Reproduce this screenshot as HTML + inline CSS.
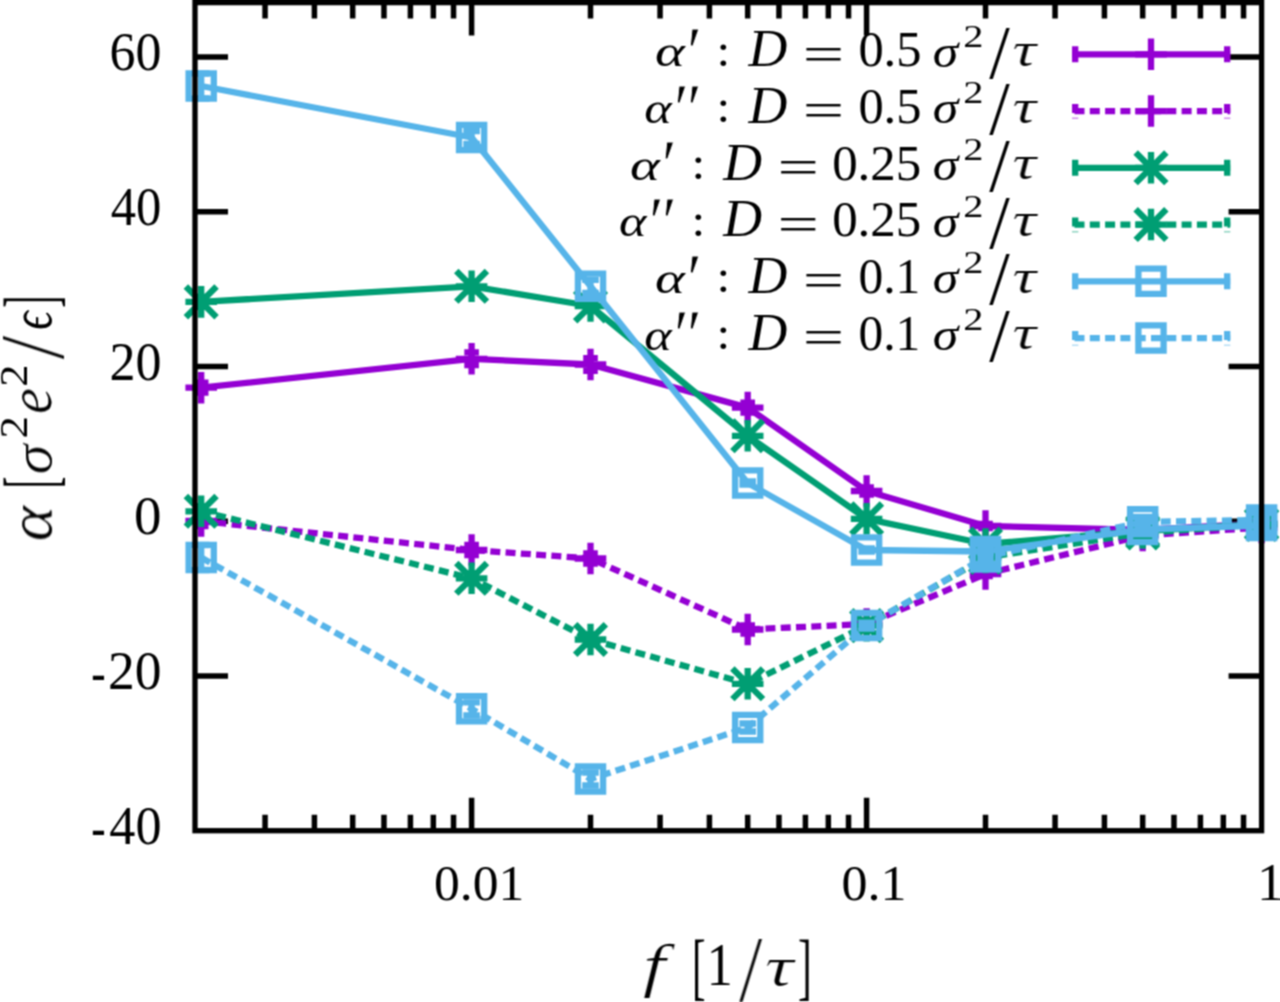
<!DOCTYPE html>
<html lang="en"><head><meta charset="utf-8"><title>alpha vs f</title>
<style>
html,body{margin:0;padding:0;background:#fff}
body{width:1280px;height:1002px;overflow:hidden}
svg{display:block}
text{font-family:"Liberation Serif","DejaVu Serif",serif;fill:#000;font-kerning:none;white-space:pre}
</style></head><body>
<svg width="1280" height="1002" viewBox="0 0 1280 1002">
<defs><filter id="thin" x="-10%" y="-10%" width="120%" height="120%"><feMorphology operator="erode" radius="0.55 0" result="e"/><feComponentTransfer in="SourceGraphic" result="s"><feFuncA type="linear" slope="0.5"/></feComponentTransfer><feMerge><feMergeNode in="s"/><feMergeNode in="e"/></feMerge></filter><filter id="thin2" x="-10%" y="-10%" width="120%" height="120%"><feMorphology operator="erode" radius="0.55 0" result="e"/><feComponentTransfer in="SourceGraphic" result="s"><feFuncA type="linear" slope="0.2"/></feComponentTransfer><feMerge><feMergeNode in="s"/><feMergeNode in="e"/></feMerge></filter><filter id="soft" x="0" y="0" width="1280" height="1002" filterUnits="userSpaceOnUse" color-interpolation-filters="sRGB"><feConvolveMatrix order="3" kernelMatrix="1 2 1 2 4 2 1 2 1" divisor="16" edgeMode="duplicate" preserveAlpha="true"/></filter></defs>
<g filter="url(#soft)">
<rect x="0" y="0" width="1280" height="1002" fill="#fff"/>
<path d="M471.60 830.7V797.7M471.60 2.6V35.6M866.60 830.7V797.7M866.60 2.6V35.6M265.06 830.7V814.7M265.06 2.6V18.6M314.41 830.7V814.7M314.41 2.6V18.6M352.69 830.7V814.7M352.69 2.6V18.6M383.97 830.7V814.7M383.97 2.6V18.6M410.41 830.7V814.7M410.41 2.6V18.6M433.32 830.7V814.7M433.32 2.6V18.6M453.53 830.7V814.7M453.53 2.6V18.6M590.51 830.7V814.7M590.51 2.6V18.6M660.06 830.7V814.7M660.06 2.6V18.6M709.41 830.7V814.7M709.41 2.6V18.6M747.69 830.7V814.7M747.69 2.6V18.6M778.97 830.7V814.7M778.97 2.6V18.6M805.41 830.7V814.7M805.41 2.6V18.6M828.32 830.7V814.7M828.32 2.6V18.6M848.53 830.7V814.7M848.53 2.6V18.6M985.51 830.7V814.7M985.51 2.6V18.6M1055.06 830.7V814.7M1055.06 2.6V18.6M1104.41 830.7V814.7M1104.41 2.6V18.6M1142.69 830.7V814.7M1142.69 2.6V18.6M1173.97 830.7V814.7M1173.97 2.6V18.6M1200.41 830.7V814.7M1200.41 2.6V18.6M1223.32 830.7V814.7M1223.32 2.6V18.6M1243.53 830.7V814.7M1243.53 2.6V18.6M195.0 56.90H228.0M1261.6 56.90H1228.6M195.0 211.66H228.0M1261.6 211.66H1228.6M195.0 366.42H228.0M1261.6 366.42H1228.6M195.0 521.18H228.0M1261.6 521.18H1228.6M195.0 675.94H228.0M1261.6 675.94H1228.6" stroke="#000" stroke-width="5.5" fill="none"/>
<g id="pur_s" stroke="#9400d3" stroke-width="6.3" fill="none">
<polyline points="201.20,387.70 471.60,358.80 590.51,364.50 747.69,407.60 866.60,491.00 985.51,526.00 1142.69,530.00 1261.60,523.50" stroke-linejoin="round"/>
<path d="M201.20 382.70V392.70M193.90 382.70H208.50M193.90 392.70H208.50M471.60 352.40V365.20M464.30 352.40H478.90M464.30 365.20H478.90M590.51 358.10V370.90M583.21 358.10H597.81M583.21 370.90H597.81M747.69 402.60V412.60M740.39 402.60H754.99M740.39 412.60H754.99M866.60 487.50V494.50M859.30 487.50H873.90M859.30 494.50H873.90M985.51 524.00V528.00M978.21 524.00H992.81M978.21 528.00H992.81M1142.69 528.50V531.50M1135.39 528.50H1149.99M1135.39 531.50H1149.99M1261.60 522.00V525.00M1254.30 522.00H1268.90M1254.30 525.00H1268.90"/>
<path d="M185.40 387.70H217.00M201.20 371.90V403.50M455.80 358.80H487.40M471.60 343.00V374.60M574.71 364.50H606.31M590.51 348.70V380.30M731.89 407.60H763.49M747.69 391.80V423.40M850.80 491.00H882.40M866.60 475.20V506.80M969.71 526.00H1001.31M985.51 510.20V541.80M1126.89 530.00H1158.49M1142.69 514.20V545.80M1245.80 523.50H1277.40M1261.60 507.70V539.30"/>
</g>
<g id="pur_d" stroke="#9400d3" stroke-width="6.3" fill="none">
<polyline points="201.20,521.00 471.60,550.00 590.51,558.50 747.69,629.50 866.60,624.00 985.51,574.00 1142.69,535.50 1261.60,527.50" stroke-dasharray="10 5.3" stroke-linejoin="round"/>
<path d="M201.20 516.00V526.00M193.90 516.00H208.50M193.90 526.00H208.50M471.60 545.00V555.00M464.30 545.00H478.90M464.30 555.00H478.90M590.51 553.50V563.50M583.21 553.50H597.81M583.21 563.50H597.81M747.69 625.50V633.50M740.39 625.50H754.99M740.39 633.50H754.99M866.60 621.00V627.00M859.30 621.00H873.90M859.30 627.00H873.90M985.51 572.00V576.00M978.21 572.00H992.81M978.21 576.00H992.81M1142.69 534.00V537.00M1135.39 534.00H1149.99M1135.39 537.00H1149.99M1261.60 526.00V529.00M1254.30 526.00H1268.90M1254.30 529.00H1268.90"/>
<path d="M185.40 521.00H217.00M201.20 505.20V536.80M455.80 550.00H487.40M471.60 534.20V565.80M574.71 558.50H606.31M590.51 542.70V574.30M731.89 629.50H763.49M747.69 613.70V645.30M850.80 624.00H882.40M866.60 608.20V639.80M969.71 574.00H1001.31M985.51 558.20V589.80M1126.89 535.50H1158.49M1142.69 519.70V551.30M1245.80 527.50H1277.40M1261.60 511.70V543.30"/>
</g>
<g id="grn_s" stroke="#009e73" stroke-width="6.3" fill="none">
<polyline points="201.20,301.90 471.60,286.30 590.51,306.00 747.69,435.80 866.60,518.80 985.51,544.00 1142.69,531.00 1261.60,524.00" stroke-linejoin="round"/>
<path d="M201.20 296.90V306.90M193.90 296.90H208.50M193.90 306.90H208.50M471.60 281.30V291.30M464.30 281.30H478.90M464.30 291.30H478.90M590.51 301.00V311.00M583.21 301.00H597.81M583.21 311.00H597.81M747.69 430.80V440.80M740.39 430.80H754.99M740.39 440.80H754.99M866.60 513.80V523.80M859.30 513.80H873.90M859.30 523.80H873.90M985.51 541.00V547.00M978.21 541.00H992.81M978.21 547.00H992.81M1142.69 529.00V533.00M1135.39 529.00H1149.99M1135.39 533.00H1149.99M1261.60 522.00V526.00M1254.30 522.00H1268.90M1254.30 526.00H1268.90"/>
<path d="M185.40 301.90H217.00M201.20 286.10V317.70M185.87 286.57L216.53 317.23M185.87 317.23L216.53 286.57M455.80 286.30H487.40M471.60 270.50V302.10M456.27 270.97L486.93 301.63M456.27 301.63L486.93 270.97M574.71 306.00H606.31M590.51 290.20V321.80M575.18 290.67L605.83 321.33M575.18 321.33L605.83 290.67M731.89 435.80H763.49M747.69 420.00V451.60M732.37 420.47L763.02 451.13M732.37 451.13L763.02 420.47M850.80 518.80H882.40M866.60 503.00V534.60M851.27 503.47L881.93 534.13M851.27 534.13L881.93 503.47M969.71 544.00H1001.31M985.51 528.20V559.80M970.18 528.67L1000.83 559.33M970.18 559.33L1000.83 528.67M1126.89 531.00H1158.49M1142.69 515.20V546.80M1127.37 515.67L1158.02 546.33M1127.37 546.33L1158.02 515.67M1245.80 524.00H1277.40M1261.60 508.20V539.80M1246.27 508.67L1276.93 539.33M1246.27 539.33L1276.93 508.67"/>
</g>
<g id="grn_d" stroke="#009e73" stroke-width="6.3" fill="none">
<polyline points="201.20,511.30 471.60,578.30 590.51,639.50 747.69,683.80 866.60,625.60 985.51,557.50 1142.69,533.00 1261.60,524.50" stroke-dasharray="10 5.3" stroke-linejoin="round"/>
<path d="M201.20 506.30V516.30M193.90 506.30H208.50M193.90 516.30H208.50M471.60 573.30V583.30M464.30 573.30H478.90M464.30 583.30H478.90M590.51 634.50V644.50M583.21 634.50H597.81M583.21 644.50H597.81M747.69 678.80V688.80M740.39 678.80H754.99M740.39 688.80H754.99M866.60 621.60V629.60M859.30 621.60H873.90M859.30 629.60H873.90M985.51 554.50V560.50M978.21 554.50H992.81M978.21 560.50H992.81M1142.69 531.00V535.00M1135.39 531.00H1149.99M1135.39 535.00H1149.99M1261.60 522.50V526.50M1254.30 522.50H1268.90M1254.30 526.50H1268.90"/>
<path d="M185.40 511.30H217.00M201.20 495.50V527.10M185.87 495.97L216.53 526.63M185.87 526.63L216.53 495.97M455.80 578.30H487.40M471.60 562.50V594.10M456.27 562.97L486.93 593.63M456.27 593.63L486.93 562.97M574.71 639.50H606.31M590.51 623.70V655.30M575.18 624.17L605.83 654.83M575.18 654.83L605.83 624.17M731.89 683.80H763.49M747.69 668.00V699.60M732.37 668.47L763.02 699.13M732.37 699.13L763.02 668.47M850.80 625.60H882.40M866.60 609.80V641.40M851.27 610.27L881.93 640.93M851.27 640.93L881.93 610.27M969.71 557.50H1001.31M985.51 541.70V573.30M970.18 542.17L1000.83 572.83M970.18 572.83L1000.83 542.17M1126.89 533.00H1158.49M1142.69 517.20V548.80M1127.37 517.67L1158.02 548.33M1127.37 548.33L1158.02 517.67M1245.80 524.50H1277.40M1261.60 508.70V540.30M1246.27 509.17L1276.93 539.83M1246.27 539.83L1276.93 509.17"/>
</g>
<g id="blu_s" stroke="#56b4e9" stroke-width="6.3" fill="none">
<polyline points="201.20,86.00 471.60,137.50 590.51,286.30 747.69,483.00 866.60,550.00 985.51,551.50 1142.69,529.50 1261.60,525.50" stroke-linejoin="round"/>
<path d="M201.20 73.50V98.50M192.90 73.50H209.50M192.90 98.50H209.50M471.60 131.00V144.00M463.30 131.00H479.90M463.30 144.00H479.90M590.51 279.80V292.80M582.21 279.80H598.81M582.21 292.80H598.81M747.69 481.50V484.50M739.39 481.50H755.99M739.39 484.50H755.99M866.60 548.50V551.50M858.30 548.50H874.90M858.30 551.50H874.90M985.51 550.20V552.80M977.21 550.20H993.81M977.21 552.80H993.81M1142.69 528.20V530.80M1134.39 528.20H1150.99M1134.39 530.80H1150.99M1261.60 524.20V526.80M1253.30 524.20H1269.90M1253.30 526.80H1269.90"/>
<path d="M188.60 73.40H213.80V98.60H188.60ZM459.00 124.90H484.20V150.10H459.00ZM577.91 273.70H603.11V298.90H577.91ZM735.09 470.40H760.29V495.60H735.09ZM854.00 537.40H879.20V562.60H854.00ZM972.91 538.90H998.11V564.10H972.91ZM1130.09 516.90H1155.29V542.10H1130.09ZM1249.00 512.90H1274.20V538.10H1249.00Z"/>
</g>
<g id="blu_d" stroke="#56b4e9" stroke-width="6.3" fill="none">
<polyline points="201.20,557.50 471.60,708.80 590.51,779.00 747.69,727.50 866.60,625.60 985.51,557.00 1142.69,521.80 1261.60,520.00" stroke-dasharray="10 5.3" stroke-linejoin="round"/>
<path d="M201.20 545.00V570.00M192.90 545.00H209.50M192.90 570.00H209.50M471.60 702.30V715.30M463.30 702.30H479.90M463.30 715.30H479.90M590.51 772.50V785.50M582.21 772.50H598.81M582.21 785.50H598.81M747.69 723.50V731.50M739.39 723.50H755.99M739.39 731.50H755.99M866.60 622.60V628.60M858.30 622.60H874.90M858.30 628.60H874.90M985.51 555.50V558.50M977.21 555.50H993.81M977.21 558.50H993.81M1142.69 520.50V523.10M1134.39 520.50H1150.99M1134.39 523.10H1150.99M1261.60 518.70V521.30M1253.30 518.70H1269.90M1253.30 521.30H1269.90"/>
<path d="M188.60 544.90H213.80V570.10H188.60ZM459.00 696.20H484.20V721.40H459.00ZM577.91 766.40H603.11V791.60H577.91ZM735.09 714.90H760.29V740.10H735.09ZM854.00 613.00H879.20V638.20H854.00ZM972.91 544.40H998.11V569.60H972.91ZM1130.09 509.20H1155.29V534.40H1130.09ZM1249.00 507.40H1274.20V532.60H1249.00Z"/>
</g>
<g stroke="#9400d3" stroke-width="6.3" fill="none"><path d="M1072.20 54.30H1230.2"/><path d="M1075.20 46.30V62.30M1227.20 46.30V62.30"/><path d="M1135.20 54.30H1166.80M1151.00 38.50V70.10"/></g>
<g stroke="#9400d3" stroke-width="6.3" fill="none"><path d="M1074.50 111.05H1230.2" stroke-dasharray="10 5.3"/><path d="M1075.20 104.05V113.05M1227.20 104.05V113.05"/><path d="M1075.20 117.55v1.5M1227.20 117.55v1.5" stroke-opacity="0.45"/><path d="M1135.20 111.05H1166.80M1151.00 95.25V126.85"/></g>
<g stroke="#009e73" stroke-width="6.3" fill="none"><path d="M1072.20 167.80H1230.2"/><path d="M1075.20 159.80V175.80M1227.20 159.80V175.80"/><path d="M1135.20 167.80H1166.80M1151.00 152.00V183.60M1135.67 152.47L1166.33 183.13M1135.67 183.13L1166.33 152.47"/></g>
<g stroke="#009e73" stroke-width="6.3" fill="none"><path d="M1074.50 224.55H1230.2" stroke-dasharray="10 5.3"/><path d="M1075.20 217.55V226.55M1227.20 217.55V226.55"/><path d="M1075.20 231.05v1.5M1227.20 231.05v1.5" stroke-opacity="0.45"/><path d="M1135.20 224.55H1166.80M1151.00 208.75V240.35M1135.67 209.22L1166.33 239.88M1135.67 239.88L1166.33 209.22"/></g>
<g stroke="#56b4e9" stroke-width="6.3" fill="none"><path d="M1072.20 281.30H1230.2"/><path d="M1075.20 273.30V289.30M1227.20 273.30V289.30"/><path d="M1138.40 268.70H1163.60V293.90H1138.40Z"/></g>
<g stroke="#56b4e9" stroke-width="6.3" fill="none"><path d="M1074.50 338.05H1230.2" stroke-dasharray="10 5.3"/><path d="M1075.20 331.05V340.05M1227.20 331.05V340.05"/><path d="M1075.20 344.55v1.5M1227.20 344.55v1.5" stroke-opacity="0.45"/><path d="M1138.40 325.45H1163.60V350.65H1138.40Z"/></g>
<rect x="195.0" y="2.6" width="1066.6" height="828.1" fill="none" stroke="#000" stroke-width="5.3"/>
<g><text transform="translate(655.11,66.34) scale(1.1373,0.8881)" font-size="50" font-style="italic">α</text><text transform="translate(682.46,75.87) scale(1.4153,1.4562)" font-size="50" font-style="italic" stroke="#fff" stroke-width="0.6">′</text><text transform="translate(716.60,65.65) scale(0.9858,0.9185)" font-size="50">:</text><text transform="translate(748.50,66.15) scale(1.0748,1.0522)" font-size="50" font-style="italic">D</text><text transform="translate(802.74,70.68) scale(1.4699,1.0320)" font-size="50">=</text><text transform="translate(858.38,66.38) scale(1.0095,1.0100)" font-size="50">0.5</text><text transform="translate(932.66,66.66) scale(1.0341,0.9098)" font-size="50" font-style="italic">σ</text><text transform="translate(963.32,46.50) scale(0.8082,0.6464)" font-size="50">2</text><text transform="translate(989.20,77.56) scale(1.4757,1.5128)" font-size="50">/</text><text transform="translate(1012.22,65.93) scale(1.3489,0.9557)" font-size="50" font-style="italic" filter="url(#thin)">τ</text></g>
<g><text transform="translate(644.14,123.04) scale(1.0475,0.8881)" font-size="50" font-style="italic">α</text><text transform="translate(669.36,132.57) scale(1.3826,1.4562)" font-size="50" font-style="italic" stroke="#fff" stroke-width="0.6">″</text><text transform="translate(716.60,122.35) scale(0.9858,0.9185)" font-size="50">:</text><text transform="translate(748.50,122.85) scale(1.0748,1.0522)" font-size="50" font-style="italic">D</text><text transform="translate(802.74,127.38) scale(1.4699,1.0320)" font-size="50">=</text><text transform="translate(858.38,123.08) scale(1.0095,1.0100)" font-size="50">0.5</text><text transform="translate(932.66,123.36) scale(1.0341,0.9098)" font-size="50" font-style="italic">σ</text><text transform="translate(963.32,103.20) scale(0.8082,0.6464)" font-size="50">2</text><text transform="translate(989.20,134.26) scale(1.4757,1.5128)" font-size="50">/</text><text transform="translate(1012.22,122.63) scale(1.3489,0.9557)" font-size="50" font-style="italic" filter="url(#thin)">τ</text></g>
<g><text transform="translate(629.91,179.74) scale(1.1373,0.8881)" font-size="50" font-style="italic">α</text><text transform="translate(657.26,189.27) scale(1.4153,1.4562)" font-size="50" font-style="italic" stroke="#fff" stroke-width="0.6">′</text><text transform="translate(691.40,179.05) scale(0.9858,0.9185)" font-size="50">:</text><text transform="translate(723.30,179.55) scale(1.0748,1.0522)" font-size="50" font-style="italic">D</text><text transform="translate(777.54,184.08) scale(1.4699,1.0320)" font-size="50">=</text><text transform="translate(832.16,179.78) scale(1.0186,1.0100)" font-size="50">0.25</text><text transform="translate(932.66,180.06) scale(1.0341,0.9098)" font-size="50" font-style="italic">σ</text><text transform="translate(963.32,159.90) scale(0.8082,0.6464)" font-size="50">2</text><text transform="translate(989.20,190.96) scale(1.4757,1.5128)" font-size="50">/</text><text transform="translate(1012.22,179.33) scale(1.3489,0.9557)" font-size="50" font-style="italic" filter="url(#thin)">τ</text></g>
<g><text transform="translate(618.94,236.44) scale(1.0475,0.8881)" font-size="50" font-style="italic">α</text><text transform="translate(644.16,245.97) scale(1.3826,1.4562)" font-size="50" font-style="italic" stroke="#fff" stroke-width="0.6">″</text><text transform="translate(691.40,235.75) scale(0.9858,0.9185)" font-size="50">:</text><text transform="translate(723.30,236.25) scale(1.0748,1.0522)" font-size="50" font-style="italic">D</text><text transform="translate(777.54,240.78) scale(1.4699,1.0320)" font-size="50">=</text><text transform="translate(832.16,236.48) scale(1.0186,1.0100)" font-size="50">0.25</text><text transform="translate(932.66,236.76) scale(1.0341,0.9098)" font-size="50" font-style="italic">σ</text><text transform="translate(963.32,216.60) scale(0.8082,0.6464)" font-size="50">2</text><text transform="translate(989.20,247.66) scale(1.4757,1.5128)" font-size="50">/</text><text transform="translate(1012.22,236.03) scale(1.3489,0.9557)" font-size="50" font-style="italic" filter="url(#thin)">τ</text></g>
<g><text transform="translate(655.11,293.14) scale(1.1373,0.8881)" font-size="50" font-style="italic">α</text><text transform="translate(682.46,302.67) scale(1.4153,1.4562)" font-size="50" font-style="italic" stroke="#fff" stroke-width="0.6">′</text><text transform="translate(716.60,292.45) scale(0.9858,0.9185)" font-size="50">:</text><text transform="translate(748.50,292.95) scale(1.0748,1.0522)" font-size="50" font-style="italic">D</text><text transform="translate(802.74,297.48) scale(1.4699,1.0320)" font-size="50">=</text><text transform="translate(858.42,293.18) scale(0.9897,1.0100)" font-size="50">0.1</text><text transform="translate(932.66,293.46) scale(1.0341,0.9098)" font-size="50" font-style="italic">σ</text><text transform="translate(963.32,273.30) scale(0.8082,0.6464)" font-size="50">2</text><text transform="translate(989.20,304.36) scale(1.4757,1.5128)" font-size="50">/</text><text transform="translate(1012.22,292.73) scale(1.3489,0.9557)" font-size="50" font-style="italic" filter="url(#thin)">τ</text></g>
<g><text transform="translate(644.14,349.84) scale(1.0475,0.8881)" font-size="50" font-style="italic">α</text><text transform="translate(669.36,359.37) scale(1.3826,1.4562)" font-size="50" font-style="italic" stroke="#fff" stroke-width="0.6">″</text><text transform="translate(716.60,349.15) scale(0.9858,0.9185)" font-size="50">:</text><text transform="translate(748.50,349.65) scale(1.0748,1.0522)" font-size="50" font-style="italic">D</text><text transform="translate(802.74,354.18) scale(1.4699,1.0320)" font-size="50">=</text><text transform="translate(858.42,349.88) scale(0.9897,1.0100)" font-size="50">0.1</text><text transform="translate(932.66,350.16) scale(1.0341,0.9098)" font-size="50" font-style="italic">σ</text><text transform="translate(963.32,330.00) scale(0.8082,0.6464)" font-size="50">2</text><text transform="translate(989.20,361.06) scale(1.4757,1.5128)" font-size="50">/</text><text transform="translate(1012.22,349.43) scale(1.3489,0.9557)" font-size="50" font-style="italic" filter="url(#thin)">τ</text></g>
<text transform="translate(109.52,70.17) scale(1.0392,1.0818)" font-size="50">60</text>
<text transform="translate(110.76,224.93) scale(1.0134,1.0818)" font-size="50">40</text>
<text transform="translate(109.46,379.69) scale(1.0403,1.0818)" font-size="50">20</text>
<text transform="translate(134.11,534.45) scale(1.0995,1.0818)" font-size="50">0</text>
<text transform="translate(91.20,690.79) scale(0.8623,1.1244)" font-size="50">-</text><text transform="translate(107.94,689.21) scale(1.0719,1.0818)" font-size="50">20</text>
<text transform="translate(91.20,845.55) scale(0.8623,1.1244)" font-size="50">-</text><text transform="translate(109.28,843.97) scale(1.0442,1.0818)" font-size="50">40</text>
<text transform="translate(434.04,899.87) scale(1.0316,1.0336)" font-size="50">0.01</text>
<text transform="translate(841.52,899.87) scale(1.0401,1.0336)" font-size="50">0.1</text>
<text transform="translate(1257.02,900.10) scale(1.0765,1.0543)" font-size="50">1</text>
<g><text transform="translate(642.46,985.28) scale(1.6814,1.1952)" font-size="50" font-style="italic" filter="url(#thin2)">f</text><text transform="translate(691.97,990.74) scale(0.8174,1.4596)" font-size="50">[</text><text transform="translate(706.63,985.10) scale(1.0396,1.2088)" font-size="50">1</text><text transform="translate(739.00,1000.10) scale(1.6917,1.8507)" font-size="50" filter="url(#thin)">/</text><text transform="translate(764.50,984.96) scale(1.6384,1.1136)" font-size="50" font-style="italic" filter="url(#thin2)">τ</text><text transform="translate(798.01,990.74) scale(0.8264,1.4596)" font-size="50">]</text></g>
<g transform="rotate(-90)"><text transform="translate(-541.52,51.07) scale(1.3562,1.2325)" font-size="50" font-style="italic" filter="url(#thin)">α</text><text transform="translate(-488.20,55.01) scale(0.7006,1.4934)" font-size="50">[</text><text transform="translate(-474.42,51.16) scale(1.2240,1.1039)" font-size="50" font-style="italic" filter="url(#thin)">σ</text><text transform="translate(-438.47,27.10) scale(0.8980,0.7823)" font-size="50">2</text><text transform="translate(-414.33,51.09) scale(1.1930,1.2392)" font-size="50" font-style="italic" filter="url(#thin)">e</text><text transform="translate(-386.75,27.40) scale(0.8880,0.7914)" font-size="50">2</text><text transform="translate(-359.40,63.42) scale(1.7277,1.8118)" font-size="50" filter="url(#thin)">/</text><text transform="translate(-329.76,51.12) scale(0.9130,1.1851)" font-size="50" font-style="italic">ϵ</text><text transform="translate(-307.71,54.99) scale(0.7276,1.4958)" font-size="50">]</text></g>
</g>
</svg>
</body></html>
